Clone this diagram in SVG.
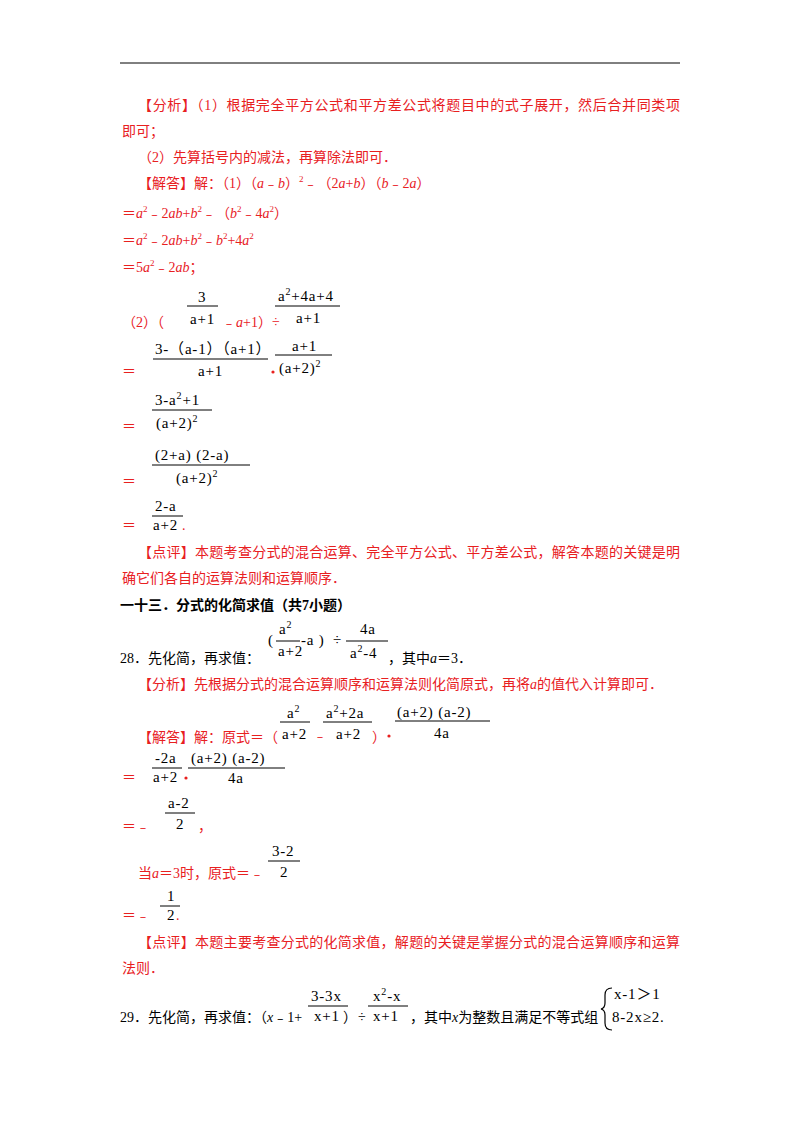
<svg xmlns="http://www.w3.org/2000/svg" width="800" height="1132" viewBox="0 0 800 1132">
<style>
text{font-family:"Liberation Serif","Noto Sans CJK SC",serif;font-size:14px;fill:#000}
.r{fill:#e8201f}
.m{font-family:"Liberation Serif","Noto Sans CJK SC",serif;font-size:15px;letter-spacing:0.8px}
.i{font-style:italic}
.b{font-weight:bold}
line{stroke:#000;stroke-width:1}
</style>
<rect width="800" height="1132" fill="#fff"/>
<line x1="120" y1="63" x2="680" y2="63"/>
<text class="r" x="138" y="110" textLength="542">【分析】（1）根据完全平方公式和平方差公式将题目中的式子展开，然后合并同类项</text>
<text class="r" x="122" y="136">即可；</text>
<text class="r" x="138" y="162">（2）先算括号内的减法，再算除法即可．</text>
<text class="r" x="138" y="188">【解答】解：（1）（<tspan class="i">a</tspan>﹣<tspan class="i">b</tspan>）<tspan dy="-6" font-size="9">2</tspan><tspan dy="6">﹣（2</tspan><tspan class="i">a</tspan>+<tspan class="i">b</tspan>）（<tspan class="i">b</tspan>﹣2<tspan class="i">a</tspan>）</text>
<text class="r" x="122" y="218">＝<tspan class="i">a</tspan><tspan dy="-6" font-size="9">2</tspan><tspan dy="6">﹣2</tspan><tspan class="i">ab</tspan>+<tspan class="i">b</tspan><tspan dy="-6" font-size="9">2</tspan><tspan dy="6">﹣（</tspan><tspan class="i">b</tspan><tspan dy="-6" font-size="9">2</tspan><tspan dy="6">﹣4</tspan><tspan class="i">a</tspan><tspan dy="-6" font-size="9">2</tspan><tspan dy="6">）</tspan></text>
<text class="r" x="122" y="245">＝<tspan class="i">a</tspan><tspan dy="-6" font-size="9">2</tspan><tspan dy="6">﹣2</tspan><tspan class="i">ab</tspan>+<tspan class="i">b</tspan><tspan dy="-6" font-size="9">2</tspan><tspan dy="6">﹣</tspan><tspan class="i">b</tspan><tspan dy="-6" font-size="9">2</tspan><tspan dy="6">+4</tspan><tspan class="i">a</tspan><tspan dy="-6" font-size="9">2</tspan></text>
<text class="r" x="122" y="272">＝5<tspan class="i">a</tspan><tspan dy="-6" font-size="9">2</tspan><tspan dy="6">﹣2</tspan><tspan class="i">ab</tspan>；</text>

<text class="m" x="198" y="302">3</text>
<line x1="187" y1="306" x2="218" y2="306"/>
<text class="r" x="122" y="327">（2）（</text>
<text class="m" x="190" y="324">a+1</text>
<text class="r" x="222" y="327">﹣<tspan class="i">a</tspan>+1）÷</text>
<text class="m" x="278" y="301">a<tspan dy="-6" font-size="10">2</tspan><tspan dy="6">+4a+4</tspan></text>
<line x1="275" y1="306" x2="340" y2="306"/>
<text class="m" x="296" y="323">a+1</text>

<text class="m" x="155" y="354">3-（a-1）（a+1）</text>
<line x1="153" y1="359" x2="268" y2="359"/>
<text class="r" x="122" y="376">＝</text>
<text class="m" x="198" y="376">a+1</text>
<circle cx="273" cy="372" r="1.6" fill="#e8201f"/>
<text class="m" x="292" y="351">a+1</text>
<line x1="275" y1="355" x2="332" y2="355"/>
<text class="m" x="279" y="373">(a+2)<tspan dy="-6" font-size="10">2</tspan></text>

<text class="m" x="155" y="405">3-a<tspan dy="-6" font-size="10">2</tspan><tspan dy="6">+1</tspan></text>
<line x1="152" y1="410" x2="212" y2="410"/>
<text class="r" x="122" y="431">＝</text>
<text class="m" x="156" y="428">(a+2)<tspan dy="-6" font-size="10">2</tspan></text>

<text class="m" x="155" y="460">(2+a) (2-a)</text>
<line x1="152" y1="465" x2="250" y2="465"/>
<text class="r" x="122" y="486">＝</text>
<text class="m" x="176" y="483">(a+2)<tspan dy="-6" font-size="10">2</tspan></text>

<text class="m" x="155" y="511">2-a</text>
<line x1="152" y1="516" x2="183" y2="516"/>
<text class="r" x="122" y="530">＝</text>
<text class="m" x="153" y="530">a+2</text>
<text class="r" x="182" y="530">.</text>

<text class="r" x="138" y="557" textLength="542">【点评】本题考查分式的混合运算、完全平方公式、平方差公式，解答本题的关键是明</text>
<text class="r" x="122" y="583">确它们各自的运算法则和运算顺序．</text>
<text class="b" x="120" y="610">一十三．分式的化简求值（共7小题）</text>

<text x="120" y="663">28．先化简，再求值：</text>
<text class="m" x="268" y="645">(</text>
<text class="m" x="279" y="634">a<tspan dy="-6" font-size="10">2</tspan></text>
<line x1="276" y1="641" x2="300" y2="641"/>
<text class="m" x="278" y="656">a+2</text>
<text class="m" x="301" y="645">-a )</text>
<text class="m" x="333" y="645">÷</text>
<text class="m" x="360" y="634">4a</text>
<line x1="346" y1="641" x2="388" y2="641"/>
<text class="m" x="350" y="658">a<tspan dy="-6" font-size="10">2</tspan><tspan dy="6">-4</tspan></text>
<text x="388" y="663">，其中<tspan class="i">a</tspan>＝3．</text>

<text class="r" x="138" y="689">【分析】先根据分式的混合运算顺序和运算法则化简原式，再将<tspan class="i">a</tspan>的值代入计算即可．</text>

<text class="r" x="138" y="742">【解答】解：原式＝（</text>
<text class="m" x="287" y="718">a<tspan dy="-6" font-size="10">2</tspan></text>
<line x1="280" y1="722" x2="310" y2="722"/>
<text class="m" x="282" y="739">a+2</text>
<text class="r" x="313" y="740">﹣</text>
<text class="m" x="326" y="718">a<tspan dy="-6" font-size="10">2</tspan><tspan dy="6">+2a</tspan></text>
<line x1="323" y1="722" x2="372" y2="722"/>
<text class="m" x="336" y="739">a+2</text>
<text class="r" x="372" y="742">）</text>
<circle cx="389" cy="736" r="1.6" fill="#e8201f"/>
<text class="m" x="397" y="717">(a+2) (a-2)</text>
<line x1="395" y1="721" x2="490" y2="721"/>
<text class="m" x="434" y="738">4a</text>

<text class="m" x="155" y="763">-2a</text>
<line x1="152" y1="768" x2="182" y2="768"/>
<text class="r" x="122" y="782">＝</text>
<text class="m" x="153" y="782">a+2</text>
<circle cx="186" cy="778" r="1.6" fill="#e8201f"/>
<text class="m" x="191" y="763">(a+2) (a-2)</text>
<line x1="188" y1="768" x2="285" y2="768"/>
<text class="m" x="228" y="783">4a</text>

<text class="m" x="168" y="808">a-2</text>
<line x1="165" y1="813" x2="195" y2="813"/>
<text class="r" x="122" y="831">＝﹣</text>
<text class="m" x="176" y="829">2</text>
<text class="r" x="198" y="831">，</text>

<text class="r" x="138" y="878">当<tspan class="i">a</tspan>＝3时，原式＝﹣</text>
<text class="m" x="272" y="856">3-2</text>
<line x1="268" y1="861" x2="300" y2="861"/>
<text class="m" x="280" y="877">2</text>

<text class="m" x="167" y="901">1</text>
<line x1="160" y1="906" x2="180" y2="906"/>
<text class="r" x="122" y="920">＝﹣</text>
<text class="m" x="167" y="920">2</text>
<text class="r" x="176" y="920">.</text>

<text class="r" x="138" y="947" textLength="542">【点评】本题主要考查分式的化简求值，解题的关键是掌握分式的混合运算顺序和运算</text>
<text class="r" x="122" y="973">法则．</text>

<text x="120" y="1022">29．先化简，再求值：（<tspan class="i">x</tspan>﹣1+</text>
<text class="m" x="311" y="1001">3-3x</text>
<line x1="308" y1="1006" x2="348" y2="1006"/>
<text class="m" x="314" y="1021">x+1</text>
<text x="343" y="1022">）</text>
<text x="358" y="1022">÷</text>
<text class="m" x="373" y="1001">x<tspan dy="-6" font-size="10">2</tspan><tspan dy="6">-x</tspan></text>
<line x1="368" y1="1006" x2="408" y2="1006"/>
<text class="m" x="373" y="1021">x+1</text>
<text x="410" y="1022">，其中<tspan class="i">x</tspan>为整数且满足不等式组</text>
<path d="M612 988 Q605 988 605 995 L605 1003 Q605 1008 601 1009 Q605 1010 605 1015 L605 1023 Q605 1030 612 1030" fill="none" stroke="#000" stroke-width="1.2"/>
<text class="m" x="614" y="999">x-1＞1</text>
<text class="m" x="612" y="1022">8-2x≥2.</text>
</svg>
